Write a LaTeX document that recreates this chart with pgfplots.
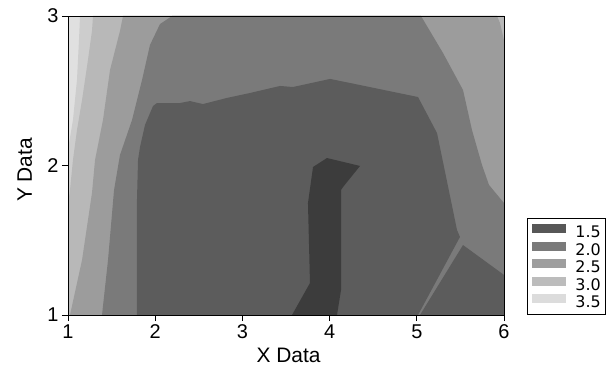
\documentclass[border=0pt]{standalone}
\usepackage{fontspec}
\setmainfont{Liberation Sans}
\newfontfamily\legfont{DejaVu Sans}
\usepackage{pgfplots}
\pgfplotsset{compat=1.18}
\definecolor{c0}{HTML}{3C3C3C}
\definecolor{c1}{HTML}{5C5C5C}
\definecolor{c2}{HTML}{7A7A7A}
\definecolor{c3}{HTML}{9C9C9C}
\definecolor{c4}{HTML}{B8B8B8}
\definecolor{c5}{HTML}{CDCDCD}
\definecolor{c6}{HTML}{E0E0E0}
\definecolor{lg1}{HTML}{575757}
\definecolor{lg2}{HTML}{7A7A7A}
\definecolor{lg3}{HTML}{9E9E9E}
\definecolor{lg4}{HTML}{BCBCBC}
\definecolor{lg5}{HTML}{DCDCDC}
\begin{document}
\begin{tikzpicture}
\path[use as bounding box] (-68bp,-61bp) rectangle (540bp,315bp);
\begin{axis}[
  scale only axis, width=436bp, height=299bp,
  xmin=1, xmax=6, ymin=1, ymax=3,
  xtick={1,2,3,4,5,6}, ytick={1,2,3},
  tick align=outside, major tick length=6bp, tick pos=left,
  axis on top,
  axis line style={line width=0.9bp, black},
  tick style={line width=0.9bp, black},
  /pgf/number format/assume math mode=true,
  tick label style={font=\fontsize{20}{24}\selectfont},
  xlabel={X Data}, ylabel={Y Data},
  label style={font=\fontsize{21}{25}\selectfont},
  xlabel style={at={(axis description cs:0.506,-0.134)}, anchor=center},
  ylabel style={at={(axis description cs:-0.099,0.485)}, anchor=center},
  legend style={at={(1.0528,0)}, anchor=south west, draw=black, line width=0.8bp,
    font=\legfont\fontsize{16}{16}\selectfont, inner xsep=2bp, inner ysep=6bp,
    row sep=3bp,
    nodes={inner ysep=1bp, inner xsep=3bp, text height=11bp, text depth=0bp}},
  legend cell align=left,
  legend image code/.code={\path[fill=none, draw=none] (-3bp,-1bp) rectangle (40bp,8bp);\fill[#1] (0bp,-1bp) rectangle (34bp,8bp);},
]
% base (lightest)
\addplot[fill=c6, draw=none, forget plot] coordinates {(1,1) (6,1) (6,3) (1,3)};
% c5 and darker
\addplot[fill=c5, draw=none, forget plot] coordinates {
  (1.138,3) (1.126,2.839) (1.103,2.572) (1.057,2.304) (1,2.104)
  (1,1) (6,1) (6,3)};
% c4 and darker
\addplot[fill=c4, draw=none, forget plot] coordinates {
  (1.287,3) (1.275,2.900) (1.229,2.706) (1.161,2.438) (1.103,2.237) (1.057,2.037) (1.023,1.836) (1,1.736)
  (1,1) (6,1) (6,3)};
% c3 and darker
\addplot[fill=c3, draw=none, forget plot] coordinates {
  (1.631,3) (1.596,2.900) (1.482,2.639) (1.401,2.304) (1.310,2.037) (1.275,1.816) (1.161,1.368) (1.023,1)
  (6,1) (6,2.839) (5.954,2.953) (5.920,3)};
% c2 and darker
\addplot[fill=c2, draw=none, forget plot] coordinates {
  (2.193,3) (2.055,2.946) (1.940,2.806) (1.849,2.572) (1.734,2.304) (1.596,2.070) (1.528,1.836) (1.459,1.368) (1.390,1)
  (6,1) (6,1.749) (5.828,1.870) (5.748,2.003) (5.633,2.237) (5.530,2.505) (5.300,2.753) (5.048,3)};
% c1 centre
\addplot[fill=c1, draw=none, forget plot] coordinates {
  (1.791,1) (1.791,1.769) (1.803,2.037) (1.826,2.124) (1.883,2.271) (1.975,2.398) (2.021,2.418)
  (2.284,2.418) (2.399,2.431) (2.548,2.411) (2.823,2.452) (3.087,2.485) (3.431,2.532) (3.580,2.525)
  (4.005,2.579) (4.234,2.552) (5.014,2.458) (5.232,2.217) (5.461,1.569) (5.495,1.522) (5.014,1)};
% c1 bottom right
\addplot[fill=c1, draw=none, forget plot] coordinates {
  (5.037,1) (5.530,1.468) (6,1.268) (6,1)};
% c0 strip
\addplot[fill=c0, draw=none, forget plot] coordinates {
  (3.569,1) (3.775,1.214) (3.752,1.749) (3.810,1.990) (3.970,2.050) (4.349,1.997) (4.154,1.856)
  (4.131,1.836) (4.131,1.167) (4.085,1)};
\addlegendimage{fill=lg1, draw=none}\addlegendentry{1.5}
\addlegendimage{fill=lg2, draw=none}\addlegendentry{2.0}
\addlegendimage{fill=lg3, draw=none}\addlegendentry{2.5}
\addlegendimage{fill=lg4, draw=none}\addlegendentry{3.0}
\addlegendimage{fill=lg5, draw=none}\addlegendentry{3.5}
\end{axis}
\end{tikzpicture}
\end{document}
